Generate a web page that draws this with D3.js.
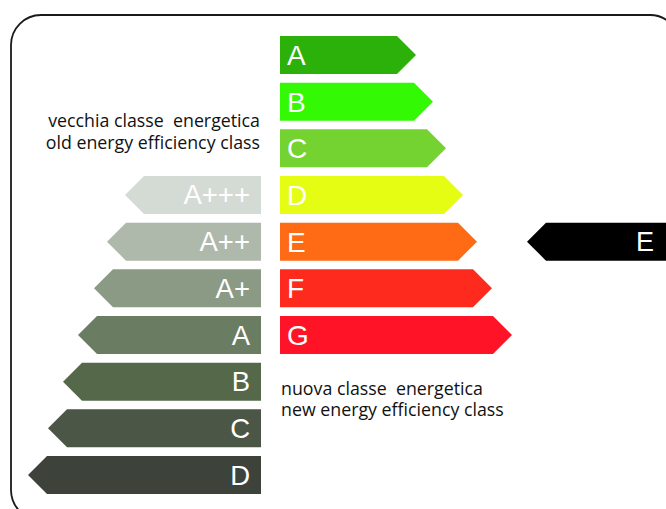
<!DOCTYPE html>
<html>
<head>
<meta charset="utf-8">
<script src="https://cdn.jsdelivr.net/npm/d3@7"></script>
<style>
  body { margin: 0; background: #fff; }
  svg { display: block; }
</style>
</head>
<body>
<div id="chart"></div>
<script>
// new scale (right side, pointing right)
const newClasses = ["A", "B", "C", "D", "E", "F", "G"];
const newLengths = [136, 153, 166, 183, 197, 212, 232];
const newColors = ["#2bb10a", "#33f904", "#74d231", "#e5fd13", "#ff6a15", "#ff2a1e", "#ff1427"];

// old scale (left side, pointing left), starts on the 4th row
const oldClasses = ["A+++", "A++", "A+", "A", "B", "C", "D"];
const oldLengths = [136, 154, 167, 183, 198, 213, 233];
const oldColors = ["#d4dbd4", "#aeb8ab", "#8a9a84", "#6a7c62", "#55684a", "#4b5646", "#3d423b"];
const oldRowOffset = 3;

// current class marker
const currentClass = "E";

const W = 666, H = 509;
const svg = d3.select("#chart").append("svg")
    .attr("width", W)
    .attr("height", H);

// frame with rounded corners (runs off the right and bottom edges)
svg.append("rect")
    .attr("x", 11).attr("y", 15)
    .attr("width", 669).attr("height", 505)
    .attr("rx", 30).attr("ry", 30)
    .attr("fill", "none")
    .attr("stroke", "#1a1a1a")
    .attr("stroke-width", 1.8);

// rows
const rows = d3.range(10);
const y = d3.scaleBand()
    .domain(rows)
    .range([36, 494])
    .paddingInner(0.186)
    .paddingOuter(0);
const bh = y.bandwidth();
const tip = bh / 2;

const len = d3.scaleLinear().domain([0, 240]).range([0, 240]);

const xNew = 280, xOld = 261;

function rightArrow(x0, len, y0) {
    const p = d3.path();
    p.moveTo(x0, y0);
    p.lineTo(x0 + len - tip, y0);
    p.lineTo(x0 + len, y0 + bh / 2);
    p.lineTo(x0 + len - tip, y0 + bh);
    p.lineTo(x0, y0 + bh);
    p.closePath();
    return p.toString();
}
function leftArrow(x1, len, y0) {
    const p = d3.path();
    p.moveTo(x1, y0);
    p.lineTo(x1 - len + tip, y0);
    p.lineTo(x1 - len, y0 + bh / 2);
    p.lineTo(x1 - len + tip, y0 + bh);
    p.lineTo(x1, y0 + bh);
    p.closePath();
    return p.toString();
}

const labelFont = "'Liberation Sans', Arial, sans-serif";

// new classes
const gNew = svg.append("g");
gNew.selectAll("path")
    .data(newClasses)
    .join("path")
    .attr("d", (d, i) => rightArrow(xNew, len(newLengths[i]), y(i)))
    .attr("fill", (d, i) => newColors[i]);
gNew.selectAll("text")
    .data(newClasses)
    .join("text")
    .attr("x", xNew + 7)
    .attr("y", (d, i) => y(i) + bh / 2 + 10)
    .attr("fill", "#fff")
    .style("font-family", labelFont)
    .style("font-size", "28px")
    .text(d => d);

// old classes
const gOld = svg.append("g");
gOld.selectAll("path")
    .data(oldClasses)
    .join("path")
    .attr("d", (d, i) => leftArrow(xOld, len(oldLengths[i]), y(i + oldRowOffset)))
    .attr("fill", (d, i) => oldColors[i]);
gOld.selectAll("text")
    .data(oldClasses)
    .join("text")
    .attr("x", xOld - 11)
    .attr("y", (d, i) => y(i + oldRowOffset) + bh / 2 + 9.5)
    .attr("text-anchor", "end")
    .attr("fill", "#fff")
    .style("font-family", labelFont)
    .style("font-size", "27.5px")
    .text(d => d);

// black marker for the current class
const ci = newClasses.indexOf(currentClass);
svg.append("path")
    .attr("d", leftArrow(W + 10, W + 10 - 527, y(ci)))
    .attr("fill", "#000");
svg.append("text")
    .attr("x", 654)
    .attr("y", y(ci) + bh / 2 + 9.5)
    .attr("text-anchor", "end")
    .attr("fill", "#fff")
    .style("font-family", labelFont)
    .style("font-size", "27px")
    .text(currentClass);

// captions
const capFont = "'Open Sans', 'Noto Sans', sans-serif";
const capOld = ["vecchia classe  energetica", "old energy efficiency class"];
const capNew = ["nuova classe  energetica", "new energy efficiency class"];

svg.append("g").selectAll("text")
    .data(capOld)
    .join("text")
    .attr("x", 260)
    .attr("y", (d, i) => 127 + i * 21.5)
    .attr("text-anchor", "end")
    .attr("fill", "#111")
    .attr("xml:space", "preserve")
    .style("white-space", "pre")
    .style("font-family", capFont)
    .style("font-size", "17.8px")
    .text(d => d);

svg.append("g").selectAll("text")
    .data(capNew)
    .join("text")
    .attr("x", 281)
    .attr("y", (d, i) => 394.5 + i * 21.5)
    .attr("fill", "#111")
    .attr("xml:space", "preserve")
    .style("white-space", "pre")
    .style("font-family", capFont)
    .style("font-size", "17.8px")
    .text(d => d);
</script>
</body>
</html>
